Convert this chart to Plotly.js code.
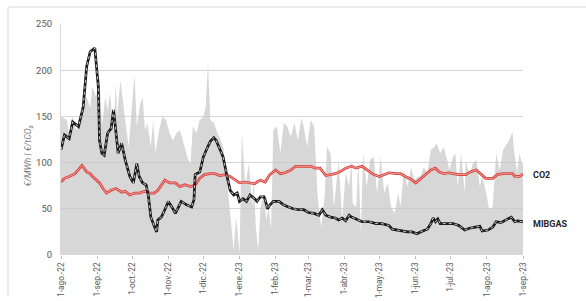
<!DOCTYPE html>
<html><head><meta charset="utf-8">
<script src="https://cdn.plot.ly/plotly-3.0.1.min.js"></script>
<style>html,body{margin:0;padding:0;background:#fff}#c{width:586px;height:301px}</style>
</head><body><div id="c"></div>
<script>
// Gray area: electricity price (€/MWh)
const priceDates = ['2022-08-01','2022-08-03','2022-08-06','2022-08-08','2022-08-11','2022-08-14','2022-08-16','2022-08-20','2022-08-23','2022-08-26','2022-08-28','2022-08-31','2022-09-03','2022-09-05','2022-09-06','2022-09-08','2022-09-10','2022-09-12','2022-09-15','2022-09-17','2022-09-18','2022-09-21','2022-09-25','2022-09-28','2022-10-01','2022-10-03','2022-10-05','2022-10-08','2022-10-10','2022-10-12','2022-10-14','2022-10-17','2022-10-19','2022-10-21','2022-10-24','2022-10-27','2022-10-30','2022-11-02','2022-11-05','2022-11-08','2022-11-11','2022-11-15','2022-11-18','2022-11-20','2022-11-22','2022-11-25','2022-11-28','2022-12-01','2022-12-03','2022-12-05','2022-12-07','2022-12-10','2022-12-13','2022-12-16','2022-12-18','2022-12-21','2022-12-23','2022-12-26','2022-12-27','2022-12-29','2022-12-30','2023-01-01','2023-01-03','2023-01-06','2023-01-09','2023-01-12','2023-01-13','2023-01-15','2023-01-17','2023-01-19','2023-01-22','2023-01-24','2023-01-26','2023-01-28','2023-01-30','2023-02-02','2023-02-05','2023-02-08','2023-02-11','2023-02-14','2023-02-17','2023-02-20','2023-02-23','2023-02-25','2023-02-28','2023-03-03','2023-03-06','2023-03-09','2023-03-12','2023-03-15','2023-03-17','2023-03-20','2023-03-23','2023-03-27','2023-03-30','2023-04-02','2023-04-05','2023-04-07','2023-04-08','2023-04-11','2023-04-13','2023-04-15','2023-04-17','2023-04-20','2023-04-23','2023-04-26','2023-04-29','2023-05-02','2023-05-05','2023-05-08','2023-05-11','2023-05-14','2023-05-17','2023-05-19','2023-05-22','2023-05-25','2023-05-28','2023-05-31','2023-06-03','2023-06-05','2023-06-08','2023-06-11','2023-06-14','2023-06-17','2023-06-19','2023-06-22','2023-06-25','2023-06-28','2023-06-30','2023-07-03','2023-07-05','2023-07-07','2023-07-10','2023-07-13','2023-07-14','2023-07-17','2023-07-20','2023-07-23','2023-07-26','2023-07-28','2023-07-31','2023-08-03','2023-08-06','2023-08-09','2023-08-12','2023-08-15','2023-08-18','2023-08-20','2023-08-23','2023-08-24','2023-08-27','2023-08-29','2023-08-31','2023-09-01'];
const priceValues = [150,148,146,132,150,135,140,164,171,160,182,171,193,140,150,171,157,175,135,186,150,189,146,117,164,195,139,164,170,135,143,117,146,110,135,150,146,132,124,132,135,117,103,99,139,132,146,150,160,208,146,143,132,124,117,85,56,20,5,40,30,2,132,74,99,52,85,30,5,52,67,38,52,27,135,139,110,143,139,128,143,124,148,139,117,146,139,63,30,63,117,110,52,103,38,89,74,103,56,52,103,24,110,74,103,106,67,106,67,78,52,45,67,52,92,74,95,81,85,85,95,89,114,117,121,110,117,103,92,106,110,74,110,67,103,85,99,103,74,85,70,49,52,110,92,114,121,124,133,117,89,110,99,99];

// MIBGAS (€/MWh)
const gasDates = ['2022-08-01','2022-08-04','2022-08-08','2022-08-11','2022-08-16','2022-08-20','2022-08-23','2022-08-26','2022-08-30','2022-09-02','2022-09-03','2022-09-05','2022-09-07','2022-09-10','2022-09-13','2022-09-15','2022-09-16','2022-09-19','2022-09-22','2022-09-25','2022-09-29','2022-10-02','2022-10-05','2022-10-07','2022-10-10','2022-10-13','2022-10-15','2022-10-17','2022-10-20','2022-10-22','2022-10-23','2022-10-26','2022-10-29','2022-11-01','2022-11-04','2022-11-07','2022-11-09','2022-11-12','2022-11-17','2022-11-21','2022-11-23','2022-11-24','2022-11-28','2022-12-01','2022-12-04','2022-12-07','2022-12-10','2022-12-12','2022-12-15','2022-12-18','2022-12-21','2022-12-24','2022-12-27','2022-12-30','2023-01-01','2023-01-04','2023-01-07','2023-01-10','2023-01-14','2023-01-16','2023-01-19','2023-01-22','2023-01-23','2023-01-25','2023-01-27','2023-01-30','2023-02-04','2023-02-08','2023-02-12','2023-02-16','2023-02-21','2023-02-25','2023-03-01','2023-03-06','2023-03-10','2023-03-13','2023-03-16','2023-03-20','2023-03-24','2023-03-27','2023-03-30','2023-04-02','2023-04-05','2023-04-07','2023-04-11','2023-04-16','2023-04-22','2023-04-28','2023-05-03','2023-05-09','2023-05-12','2023-05-16','2023-05-21','2023-05-25','2023-05-29','2023-06-02','2023-06-07','2023-06-11','2023-06-14','2023-06-16','2023-06-18','2023-06-20','2023-06-22','2023-06-27','2023-07-03','2023-07-08','2023-07-13','2023-07-17','2023-07-23','2023-07-26','2023-07-28','2023-08-02','2023-08-06','2023-08-09','2023-08-13','2023-08-17','2023-08-22','2023-08-25','2023-08-27','2023-09-01'];
const gasValues = [114,130,126,144,139,160,204,220,224,182,124,110,108,132,137,157,146,110,121,103,85,78,99,85,78,76,63,41,31,25,38,41,49,58,52,45,50,58,54,52,60,87,90,106,115,123,127,124,115,106,87,70,65,67,58,61,58,65,61,58,63,63,60,50,54,58,58,54,52,50,49,49,46,45,43,49,43,41,40,38,40,37,43,41,39,36,36,34,34,32,28,27,26,25,25,23,26,28,34,40,36,39,34,34,34,32,27,29,30,31,26,27,30,36,35,38,41,36,37,36];

// CO2 (€/tCO2)
const co2Dates = ['2022-08-01','2022-08-04','2022-08-08','2022-08-13','2022-08-17','2022-08-19','2022-08-23','2022-08-26','2022-08-28','2022-08-31','2022-09-03','2022-09-06','2022-09-09','2022-09-13','2022-09-17','2022-09-22','2022-09-25','2022-09-29','2022-10-03','2022-10-07','2022-10-12','2022-10-16','2022-10-20','2022-10-23','2022-10-25','2022-10-29','2022-11-02','2022-11-07','2022-11-11','2022-11-15','2022-11-20','2022-11-24','2022-11-28','2022-12-02','2022-12-07','2022-12-11','2022-12-15','2022-12-20','2022-12-24','2022-12-28','2023-01-01','2023-01-06','2023-01-10','2023-01-14','2023-01-16','2023-01-19','2023-01-23','2023-01-27','2023-02-01','2023-02-05','2023-02-09','2023-02-14','2023-02-18','2023-02-22','2023-02-26','2023-03-03','2023-03-07','2023-03-11','2023-03-16','2023-03-20','2023-03-24','2023-03-28','2023-04-02','2023-04-07','2023-04-11','2023-04-16','2023-04-22','2023-04-26','2023-05-01','2023-05-05','2023-05-09','2023-05-15','2023-05-19','2023-05-23','2023-05-28','2023-06-01','2023-06-05','2023-06-10','2023-06-14','2023-06-18','2023-06-21','2023-06-25','2023-06-30','2023-07-03','2023-07-08','2023-07-14','2023-07-18','2023-07-23','2023-07-27','2023-07-31','2023-08-06','2023-08-10','2023-08-15','2023-08-19','2023-08-23','2023-08-25','2023-08-29','2023-09-01'];
const co2Values = [79,83,85,88,94,97,90,88,85,81,78,72,67,70,72,68,69,65,67,67,69,67,67,70,74,81,78,78,74,76,74,76,83,87,88,88,86,87,85,81,78,79,78,77,79,81,79,87,92,88,89,92,96,96,96,96,94,94,86,87,88,90,94,96,94,96,90,87,85,87,89,88,88,85,82,78,82,87,92,94,90,88,89,88,87,87,90,92,88,83,83,87,88,88,88,85,85,88];

const tickDates = ['2022-08-01','2022-09-01','2022-10-01','2022-11-01','2022-12-01','2023-01-01','2023-02-01','2023-03-01','2023-04-01','2023-05-01','2023-06-01','2023-07-01','2023-08-01','2023-09-01'];
const tickLabels = ['1-ago.-22','1-sep.-22','1-oct.-22','1-nov.-22','1-dic.-22','1-ene.-23','1-feb.-23','1-mar.-23','1-abr.-23','1-may.-23','1-jun.-23','1-jul.-23','1-ago.-23','1-sep.-23'];
const seriesLabels = ['CO2','MIBGAS'];

const traces = [
  {x: priceDates, y: priceValues, type:'scatter', mode:'lines', fill:'tozeroy',
   fillcolor:'rgba(200,200,200,0.72)', line:{width:0, color:'rgba(200,200,200,0)'}, hoverinfo:'skip'},
  {x: co2Dates, y: co2Values, type:'scatter', mode:'lines', line:{color:'#d9413b', width:2.7}},
  {x: co2Dates, y: co2Values, type:'scatter', mode:'lines', line:{color:'#f3aaa6', width:0.9}},
  {x: gasDates, y: gasValues, type:'scatter', mode:'lines', line:{color:'#1a1a1a', width:2.7}},
  {x: gasDates, y: gasValues, type:'scatter', mode:'lines', line:{color:'#f2f2f2', width:0.8, dash:'dot'}}
];

const font = 'Roboto, "Liberation Sans", sans-serif';
const layout = {
  width:586, height:301,
  margin:{l:61, r:63, t:24, b:46},
  paper_bgcolor:'#fff', plot_bgcolor:'#fff',
  showlegend:false,
  font:{family:font, size:9, color:'#595959'},
  xaxis:{type:'date', range:['2022-08-01','2023-09-01'], tickvals:tickDates, ticktext:tickLabels,
         tickangle:-90, showgrid:false, zeroline:false, showline:false,
         ticks:'outside', ticklen:3, tickcolor:'#bfbfbf', tickfont:{size:8.3, color:'#595959'}},
  yaxis:{range:[0,250], tickvals:[0,50,100,150,200,250], showgrid:true, gridcolor:'#d6d6d6', gridwidth:1,
         zeroline:false, showline:true, linecolor:'#d9d9d9', ticks:'', ticklabelstandoff:6,
         tickfont:{size:9.5, color:'#595959'}},
  annotations:[
    {xref:'paper', yref:'paper', x:-0.072, y:0.43, text:'€/MWh | €/tCO₂', textangle:-90,
     showarrow:false, font:{size:9, color:'#7f7f7f', family:font, style:'italic'}, xanchor:'center', yanchor:'middle'},
    {xref:'paper', yref:'y', x:1.018, y:87, text:'<b>'+seriesLabels[0]+'</b>', showarrow:false, xanchor:'left',
     font:{size:9, color:'#262626', family:font}},
    {xref:'paper', yref:'y', x:1.018, y:34, text:'<b>'+seriesLabels[1]+'</b>', showarrow:false, xanchor:'left',
     font:{size:9, color:'#262626', family:font}}
  ],
  shapes:[
    {type:'line', xref:'paper', yref:'paper', x0:-0.1147, x1:-0.1147, y0:-0.182, y1:1.0736, line:{color:'#d9d9d9', width:1}},
    {type:'line', xref:'paper', yref:'paper', x0:-0.1147, x1:1.14, y0:1.0736, y1:1.0736, line:{color:'#d9d9d9', width:1}}
  ]
};
Plotly.newPlot('c', traces, layout, {staticPlot:true, displayModeBar:false});
</script></body></html>
